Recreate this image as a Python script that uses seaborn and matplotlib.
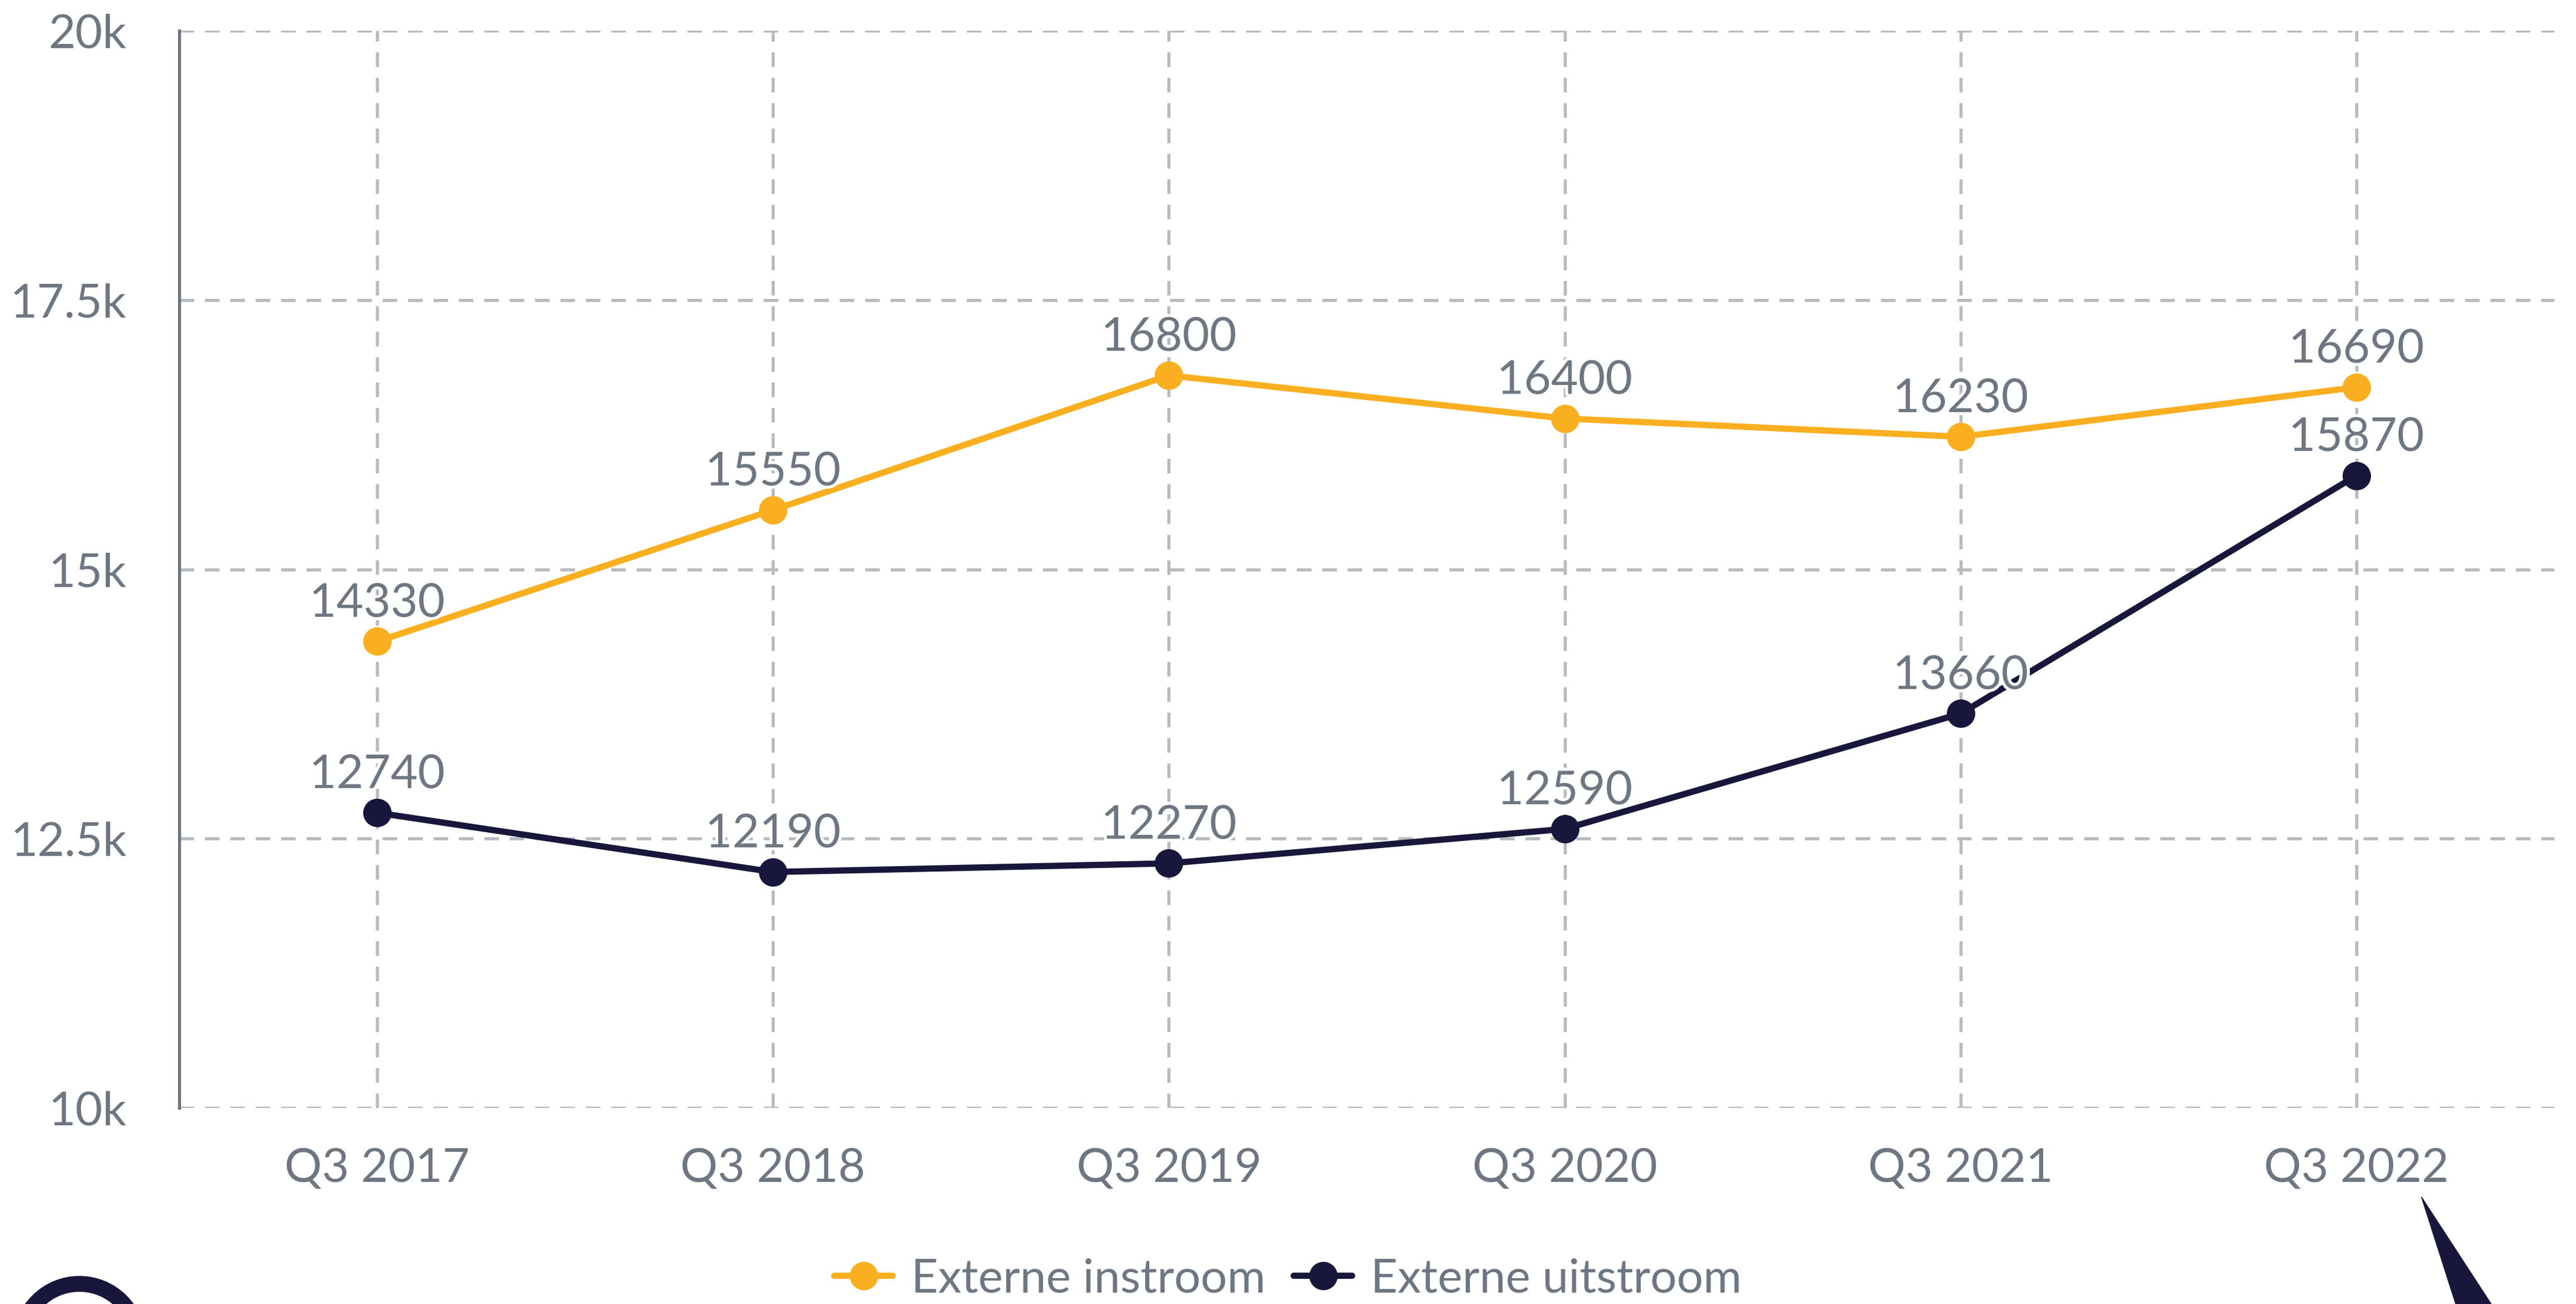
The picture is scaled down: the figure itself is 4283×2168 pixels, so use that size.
import numpy as np
import pandas as pd
import matplotlib.pyplot as plt
import matplotlib.patheffects as pe
from matplotlib.patches import Wedge, Polygon
import seaborn as sns

# -----------------------------------
# DATA
# -----------------------------------

quarters = ["Q3 2017", "Q3 2018", "Q3 2019", "Q3 2020", "Q3 2021", "Q3 2022"]
instroom = [14330, 15550, 16800, 16400, 16230, 16690]
uitstroom = [12740, 12190, 12270, 12590, 13660, 15870]

series_names = ["Externe instroom", "Externe uitstroom"]
series_colors = ["#F9AF1F", "#18163A"]

y_ticks = [10000, 12500, 15000, 17500, 20000]
y_tick_labels = ["10k", "12.5k", "15k", "17.5k", "20k"]

# -----------------------------------
# STYLE
# -----------------------------------

TEXT_GRAY = "#6E7781"
GRID_GRAY = "#B8BBBF"
FONT_SIZE = 56

sns.set_theme(style="white")
plt.rcParams["font.family"] = ["Lato", "DejaVu Sans"]

W, H = 4283, 2168
fig = plt.figure(figsize=(W / 100, H / 100), dpi=100)
ax = fig.add_axes([298 / W, 1 - 1842 / H, (4247 - 298) / W, (1842 - 51) / H])

# -----------------------------------
# LINES
# -----------------------------------

for name, vals, col in zip(series_names, [instroom, uitstroom], series_colors):
    sns.lineplot(
        x=quarters,
        y=vals,
        ax=ax,
        color=col,
        linewidth=7.5,
        marker="o",
        markersize=34,
        markeredgewidth=0,
        label=name,
        zorder=3,
    )
    for i, v in enumerate(vals):
        ax.annotate(
            str(v),
            xy=(i, v),
            xytext=(0, 29.5),
            textcoords="offset points",
            ha="center",
            va="baseline",
            fontsize=FONT_SIZE,
            color=TEXT_GRAY,
            zorder=5,
            path_effects=[pe.withStroke(linewidth=7, foreground="white")],
        )

# -----------------------------------
# AXES
# -----------------------------------

ax.set_xlim(-0.5, 5.5)
ax.set_ylim(10000, 20000)
ax.set_yticks(y_ticks)
ax.set_yticklabels(y_tick_labels)
ax.set_xticks(range(len(quarters)))
ax.set_xticklabels(quarters)
ax.set_xlabel("")
ax.set_ylabel("")

ax.tick_params(axis="x", length=0, pad=48, labelsize=FONT_SIZE, labelcolor=TEXT_GRAY)
ax.tick_params(axis="y", length=0, pad=63, labelsize=FONT_SIZE, labelcolor=TEXT_GRAY)

ax.grid(True, color=GRID_GRAY, linewidth=3.8, linestyle=(0, (4.6, 3.4)), zorder=0)
ax.set_axisbelow(True)

for side in ["top", "right", "bottom"]:
    ax.spines[side].set_visible(False)
ax.spines["left"].set_color(TEXT_GRAY)
ax.spines["left"].set_linewidth(3.6)

# -----------------------------------
# LEGEND
# -----------------------------------

ax.get_legend().remove()
handles, labels = ax.get_legend_handles_labels()
fig.legend(
    handles,
    labels,
    loc="center",
    bbox_to_anchor=(0.5, 1 - 2127 / H),
    ncol=2,
    frameon=False,
    fontsize=FONT_SIZE,
    labelcolor=TEXT_GRAY,
    handlelength=1.25,
    handletextpad=0.4,
    columnspacing=0.6,
    borderaxespad=0,
    borderpad=0,
)

# -----------------------------------
# LOGO PIECES (cut off at the bottom edge)
# -----------------------------------

ring = Wedge((132, H - 2232), 110, 0, 360, width=25,
             transform=None, color="#18163A", zorder=10)
fig.patches.append(ring)

tri = Polygon([(4026, H - 1990), (4083, H - 2168), (4142, H - 2168)],
              closed=True, transform=None, color="#18163A", zorder=10)
fig.patches.append(tri)

fig.savefig("out.png", dpi=100, facecolor="white")
